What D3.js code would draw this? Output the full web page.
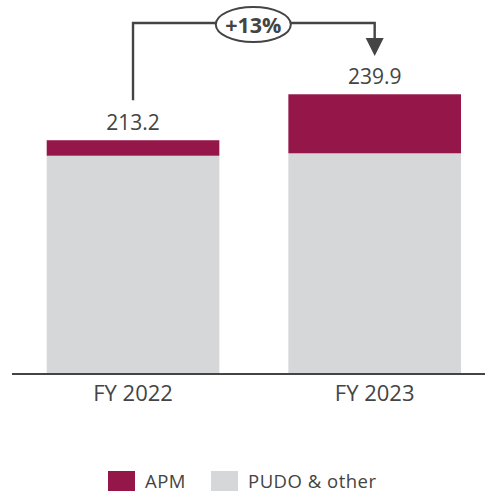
<!DOCTYPE html>
<html>
<head>
<meta charset="utf-8">
<script src="https://cdn.jsdelivr.net/npm/d3@7"></script>
<style>
  html, body { margin: 0; padding: 0; background: #fff; }
  svg { display: block; }
  text { font-family: "Open Sans", sans-serif; }
</style>
</head>
<body>
<div id="chart"></div>
<script>
// Revenue split by channel
const categories = ["FY 2022", "FY 2023"];
const seriesNames = ["PUDO & other", "APM"];
const pudoValues = [204.2, 205.6];
const apmValues = [9.0, 34.3];
const totalLabels = ["213.2", "239.9"];
const growthLabel = "+13%";
const legendLabels = ["APM", "PUDO & other"];

const colors = { "APM": "#95174a", "PUDO & other": "#d6d7d9" };
const ink = "#444444";

const W = 485, H = 491;
const svg = d3.select("#chart").append("svg")
  .attr("width", W).attr("height", H);

const rows = categories.map((c, i) => ({
  category: c,
  "PUDO & other": pudoValues[i],
  "APM": apmValues[i]
}));

const stacked = d3.stack().keys(seriesNames)(rows);

const x = d3.scaleBand()
  .domain(categories)
  .range([46.7, 461])
  .paddingInner(0.2856)
  .paddingOuter(0);

// value axis starts above zero; clamp keeps the stack base on the baseline
const y = d3.scaleLinear()
  .domain([78, 240])
  .range([373, 94.1])
  .clamp(true);

// bars
svg.append("g").selectAll("g")
  .data(stacked)
  .join("g")
  .attr("fill", d => colors[d.key])
  .selectAll("rect")
  .data(d => d)
  .join("rect")
  .attr("x", d => x(d.data.category))
  .attr("width", x.bandwidth())
  .attr("y", d => y(d[1]))
  .attr("height", d => y(d[0]) - y(d[1]));

// baseline axis
const xAxis = d3.axisBottom(x).tickSize(0).tickPadding(11);
const axisG = svg.append("g")
  .attr("transform", "translate(0,374)")
  .call(xAxis);
axisG.select(".domain")
  .attr("d", "M12,0H485")
  .attr("stroke", ink)
  .attr("stroke-width", 2);
axisG.selectAll(".tick text")
  .attr("font-family", "Open Sans, sans-serif")
  .attr("font-size", 22)
  .attr("fill", ink);

// totals above bars
const totals = categories.map((c, i) => ({ c, v: pudoValues[i] + apmValues[i], label: totalLabels[i] }));
svg.append("g").selectAll("text")
  .data(totals)
  .join("text")
  .attr("x", d => x(d.c) + x.bandwidth() / 2)
  .attr("y", d => y(d.v) - 10)
  .attr("text-anchor", "middle")
  .attr("font-size", 21)
  .attr("fill", ink)
  .text(d => d.label);

// growth connector
const cx0 = x(categories[0]) + x.bandwidth() / 2;
const cx1 = x(categories[1]) + x.bandwidth() / 2;
const lineY = 23;
const conn = svg.append("g");
conn.append("path")
  .attr("d", `M${cx0},${y(totals[0].v) - 40}V${lineY}H${cx1}V42`)
  .attr("fill", "none")
  .attr("stroke", ink)
  .attr("stroke-width", 2.4);
conn.append("path")
  .attr("d", `M${cx1 - 9},38L${cx1 + 9},38L${cx1},56Z`)
  .attr("fill", ink);

const ex = 253.3;
conn.append("ellipse")
  .attr("cx", ex).attr("cy", 24.5)
  .attr("rx", 37.5).attr("ry", 17.5)
  .attr("fill", "#fff")
  .attr("stroke", ink)
  .attr("stroke-width", 2);
conn.append("text")
  .attr("x", ex).attr("y", 32.5)
  .attr("text-anchor", "middle")
  .attr("font-size", 21.5)
  .attr("font-weight", 700)
  .attr("fill", ink)
  .text(growthLabel);

// legend
const legendX = [108, 211];
const lg = svg.append("g").selectAll("g")
  .data(legendLabels)
  .join("g")
  .attr("transform", (d, i) => `translate(${legendX[i]},471)`);
lg.append("rect")
  .attr("width", 27).attr("height", 20)
  .attr("fill", d => colors[d]);
lg.append("text")
  .attr("x", 37).attr("y", 16.5)
  .attr("font-size", 18.5)
  .attr("letter-spacing", 0.5)
  .attr("fill", ink)
  .text(d => d);
</script>
</body>
</html>
